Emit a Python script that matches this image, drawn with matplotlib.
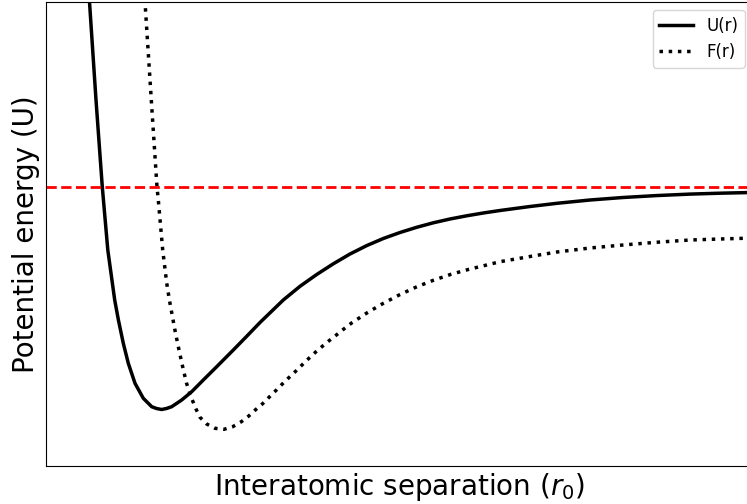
import matplotlib
matplotlib.use("Agg")
import matplotlib.pyplot as plt

# Interatomic separation r (arbitrary units) and energies (arbitrary units)
r_u = [0.405, 0.44, 0.505, 0.568, 0.623, 0.692, 0.729, 0.778, 0.828, 0.895,
       0.978, 1.062, 1.11, 1.162, 1.21, 1.262, 1.362, 1.462, 1.578, 1.712,
       1.878, 2.012, 2.145, 2.262, 2.378, 2.545, 2.712, 2.878, 3.045, 3.212,
       3.378, 3.545, 3.712, 3.878, 4.045, 4.212, 4.378, 4.545, 4.845, 5.115,
       5.445, 5.775, 6.105, 6.445, 6.745, 7.015, 7.095]
u_vals = [2.27, 1.85, 0.87, 0.0, -0.63, -1.13, -1.33, -1.563, -1.763, -1.963,
          -2.113, -2.197, -2.215, -2.225, -2.215, -2.197, -2.13, -2.047, -1.93, -1.797,
          -1.63, -1.493, -1.355, -1.242, -1.13, -0.993, -0.875, -0.768, -0.67, -0.586,
          -0.515, -0.455, -0.403, -0.358, -0.32, -0.288, -0.26, -0.235, -0.195, -0.163,
          -0.13, -0.105, -0.086, -0.071, -0.062, -0.056, -0.054]

r_f = [0.97, 0.995, 1.058, 1.115, 1.128, 1.172, 1.212, 1.239, 1.27, 1.3,
       1.335, 1.37, 1.41, 1.438, 1.468, 1.505, 1.545, 1.612, 1.695, 1.785,
       1.872, 1.957, 2.033, 2.102, 2.168, 2.235, 2.302, 2.368, 2.435, 2.502,
       2.568, 2.635, 2.702, 2.772, 2.845, 2.915, 2.992, 3.065, 3.218, 3.378,
       3.542, 3.708, 3.878, 4.055, 4.235, 4.412, 4.545, 4.845, 5.115, 5.445,
       5.775, 6.105, 6.445, 6.745, 7.015, 7.095]
f_vals = [2.27, 1.85, 0.87, 0.0, -0.13, -0.63, -0.96, -1.13, -1.30, -1.46,
          -1.63, -1.79, -1.96, -2.047, -2.13, -2.22, -2.303, -2.37, -2.413, -2.423,
          -2.397, -2.348, -2.29, -2.226, -2.17, -2.103, -2.037, -1.97, -1.905, -1.842,
          -1.777, -1.712, -1.65, -1.59, -1.53, -1.475, -1.413, -1.357, -1.257, -1.163,
          -1.077, -1.0, -0.933, -0.873, -0.823, -0.78, -0.747, -0.695, -0.65, -0.61,
          -0.58, -0.553, -0.53, -0.52, -0.512, -0.51]

reference_level = 0.0

W, H = 747, 504
fig = plt.figure(figsize=(W / 100, H / 100), dpi=100)
ax = fig.add_axes([45.5 / W, (H - 465.7) / H, (753 - 45.5) / W, (465.7 - 1.7) / H])

ax.plot(r_u, u_vals, color="black", lw=2.5, label="U(r)")
ax.plot(r_f, f_vals, color="black", lw=2.5, ls=":", label="F(r)")
ax.axhline(reference_level, color="red", lw=2, ls="--")

ax.set_xlim(0, 7.075)
ax.set_ylim(-2.787, 1.853)
ax.set_xticks([])
ax.set_yticks([])
ax.set_xlabel("Interatomic separation ($r_0$)", fontsize=20)
ax.set_ylabel("Potential energy (U)", fontsize=20)
ax.legend(loc="upper right", fontsize=12)

fig.savefig("out.png", dpi=100)
